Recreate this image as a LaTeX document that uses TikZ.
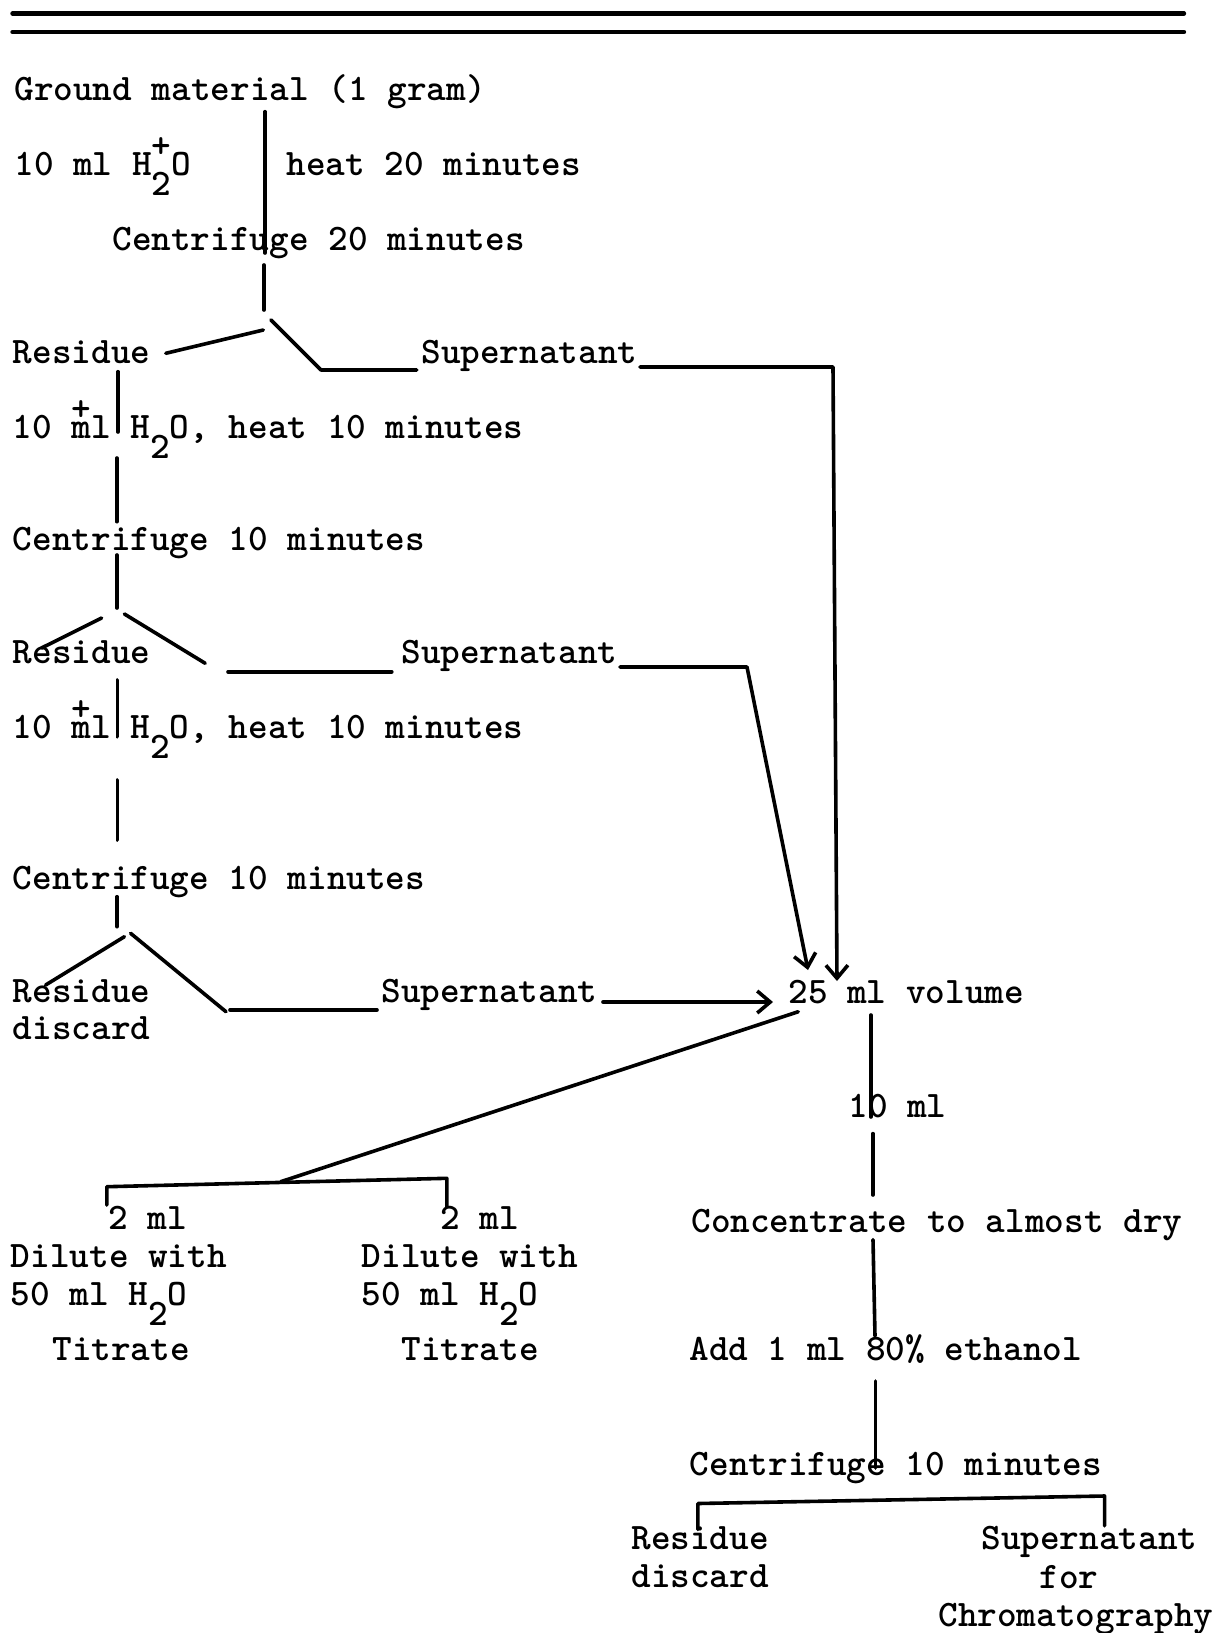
\documentclass[tikz,border=0pt]{standalone}
\usepackage{tikz}
\usetikzlibrary{arrows.meta}

% typewriter subscript two and a plus typed over a letter
\newcommand{\subtwo}{\raisebox{-0.55em}{2}}
\newcommand{\addplus}[1]{\makebox[0pt][l]{\raisebox{0.48em}{+}}#1}

\begin{document}
\begin{tikzpicture}[
  x=0.5pt, y=-0.5pt,
  >={Straight Barb[length=6.5pt,width=11pt]},
  line cap=round,
  line join=round,
  font=\fontsize{18.7}{22}\fontseries{b}\selectfont\ttfamily,
  txt/.style={
    anchor=base west,
    inner sep=0pt
  },
  link/.style={
    line width=1.8pt,
    draw=black
  },
  flow/.style={
    ->,
    line width=1.8pt,
    draw=black
  },
  rule/.style={
    line width=2.2pt
  }
]
\useasboundingbox (0,0) rectangle (1216,1633);

% Header rules
\coordinate (r1a) at (12.5,13.5);  \coordinate (r1b) at (1184,13.5);
\coordinate (r2a) at (12.5,32);    \coordinate (r2b) at (1184,32);
\draw[rule] (r1a) -- (r1b);
\draw[rule] (r2a) -- (r2b);

% Extraction steps
\node[txt] (ground) at (14,100)    {Ground material (1 gram)};
\node[txt] (water1) at (14,175)    {10 ml H\addplus{\subtwo}O};
\node[txt] (heat1)  at (286,175)   {heat 20 minutes};
\node[txt] (cent1)  at (112,250.5) {Centrifuge 20 minutes};
\node[txt] (res1)   at (12.5,363)  {Residue};
\node[txt] (sup1)   at (421,363)   {Supernatant};
\node[txt] (water2) at (12.5,438)  {10 \addplus{m}l H\subtwo O, heat 10 minutes};
\node[txt] (cent2)  at (12.5,550)  {Centrifuge 10 minutes};
\node[txt] (res2)   at (12.5,663)  {Residue};
\node[txt] (sup2)   at (401,663)   {Supernatant};
\node[txt] (water3) at (12.5,738)  {10 \addplus{m}l H\subtwo O, heat 10 minutes};
\node[txt] (cent3)  at (12.5,889)  {Centrifuge 10 minutes};
\node[txt] (res3)   at (12.5,1002) {Residue};
\node[txt] (dis3)   at (12.5,1039) {discard};
\node[txt] (sup3)   at (381,1002)  {Supernatant};

% Pooled extract
\node[txt] (vol)    at (788,1003)  {25 ml volume};
\node[txt] (aliq)   at (848,1117)  {10 ml};
\node[txt] (conc)   at (691,1232)  {Concentrate to almost dry};
\node[txt] (add)    at (689,1360)  {Add 1 ml 80\% ethanol};
\node[txt] (cent4)  at (689.5,1475) {Centrifuge 10 minutes};
\node[txt] (res4)   at (631,1549)  {Residue};
\node[txt] (dis4)   at (631,1587)  {discard};
\node[txt] (sup4)   at (981,1549)  {Supernatant};
\node[txt] (forc)   at (1039,1588) {for};
\node[txt] (chrom)  at (938,1626)  {Chromatography};

% Titration aliquots
\node[txt] (twoA)   at (108,1229)  {2 ml};
\node[txt] (dilA)   at (10.5,1267) {Dilute with};
\node[txt] (fiftyA) at (10.5,1305) {50 ml H\subtwo O};
\node[txt] (titA)   at (52,1360)   {Titrate};
\node[txt] (twoB)   at (440,1229)  {2 ml};
\node[txt] (dilB)   at (361.5,1267) {Dilute with};
\node[txt] (fiftyB) at (361.5,1305) {50 ml H\subtwo O};
\node[txt] (titB)   at (401,1360)  {Titrate};

% Junction points
\coordinate (a1) at (265,111.7);  \coordinate (a2) at (265,253);
\coordinate (a3) at (264,265);    \coordinate (a4) at (264,310);
\coordinate (s1l) at (263.3,330); \coordinate (s1m) at (165.8,353.3);
\coordinate (s1r) at (271,320);   \coordinate (s1k) at (321,370);
\coordinate (s1e) at (416.7,370);
\coordinate (p1a) at (640,367);   \coordinate (p1b) at (833,367);
\coordinate (p1c) at (837,981);
\coordinate (b1) at (118,371.7);  \coordinate (b2) at (118,432);
\coordinate (b3) at (116.7,458);  \coordinate (b4) at (116.7,521.7);
\coordinate (b5) at (117,555);    \coordinate (b6) at (117,608);
\coordinate (s2l) at (101.6,618); \coordinate (s2m) at (41.5,648);
\coordinate (s2r) at (124.4,614); \coordinate (s2k) at (205.2,663.3);
\coordinate (h2a) at (228,671.7); \coordinate (h2b) at (391.8,671.7);
\coordinate (p2a) at (620,667);   \coordinate (p2b) at (747,667);
\coordinate (p2c) at (808,970);
\coordinate (c1) at (117.3,680);  \coordinate (c2) at (117.3,736.7);
\coordinate (c3) at (117.3,780);  \coordinate (c4) at (117.3,840);
\coordinate (c5) at (117,896.7);  \coordinate (c6) at (117,926.7);
\coordinate (s3l) at (124.4,936.7); \coordinate (s3m) at (45.6,985);
\coordinate (s3r) at (130.6,933.3); \coordinate (s3k) at (226,1011.7);
\coordinate (h3a) at (230,1010);  \coordinate (h3b) at (377,1010);
\coordinate (p3a) at (603,1002);  \coordinate (p3b) at (773,1002);
\coordinate (dg) at (798.3,1011.7); \coordinate (bm) at (280.7,1181.7);
\coordinate (bl) at (106.8,1186.7); \coordinate (blt) at (106.8,1205);
\coordinate (br) at (446.8,1178.3); \coordinate (brt) at (446.8,1206.7);
\coordinate (d1) at (870.7,1015); \coordinate (d2) at (870.7,1117);
\coordinate (d3) at (872.8,1133.6); \coordinate (d4) at (872.8,1195);
\coordinate (d5) at (873,1239.6); \coordinate (d6) at (875,1336);
\coordinate (d7) at (875.4,1381); \coordinate (d8) at (875.4,1468);
\coordinate (ql) at (697.9,1503.5); \coordinate (qlt) at (697.9,1529.5);
\coordinate (qr) at (1104.6,1496);  \coordinate (qrt) at (1104.6,1525.8);

% First extraction
\draw[link] (a1) -- (a2);
\draw[link] (a3) -- (a4);
\draw[link] (s1l) -- (s1m);
\draw[link] (s1r) -- (s1k) -- (s1e);
\draw[flow] (p1a) -- (p1b) -- (p1c);

% Second extraction
\draw[link] (b1) -- (b2);
\draw[link] (b3) -- (b4);
\draw[link] (b5) -- (b6);
\draw[link] (s2l) -- (s2m);
\draw[link] (s2r) -- (s2k);
\draw[link] (h2a) -- (h2b);
\draw[flow] (p2a) -- (p2b) -- (p2c);

% Third extraction
\draw[link] (c1) -- (c2);
\draw[link] (c3) -- (c4);
\draw[link] (c5) -- (c6);
\draw[link] (s3l) -- (s3m);
\draw[link] (s3r) -- (s3k);
\draw[link] (h3a) -- (h3b);
\draw[flow] (p3a) -- (p3b);

% Aliquots for titration
\draw[link] (dg) -- (bm);
\draw[link] (blt) -- (bl) -- (br) -- (brt);

% Chromatography branch
\draw[link] (d1) -- (d2);
\draw[link] (d3) -- (d4);
\draw[link] (d5) -- (d6);
\draw[link] (d7) -- (d8);
\draw[link] (qlt) -- (ql) -- (qr) -- (qrt);

\end{tikzpicture}
\end{document}
